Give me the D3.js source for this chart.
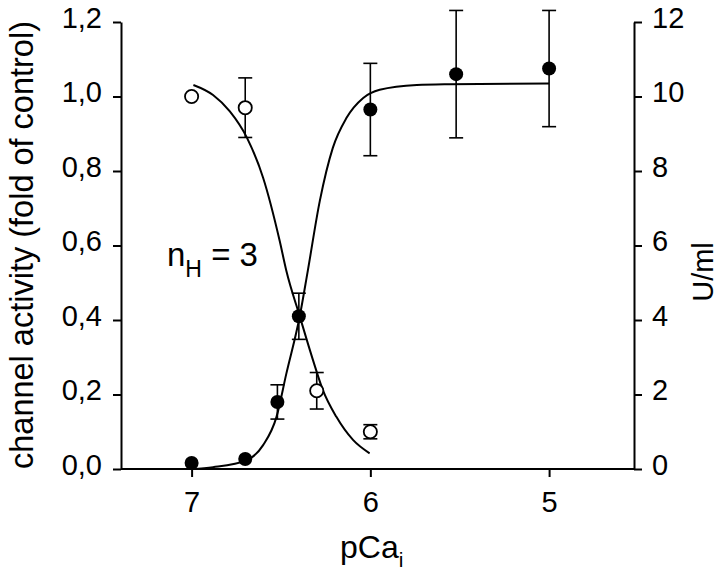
<!DOCTYPE html>
<html>
<head>
<meta charset="utf-8">
<script src="https://cdn.jsdelivr.net/npm/d3@7"></script>
<style>
  html, body { margin: 0; padding: 0; background: #fff; }
  svg { display: block; font-family: "Liberation Sans", Arial, sans-serif; }
</style>
</head>
<body>
<svg id="chart" width="720" height="572"></svg>
<script>
// ---- data ----
const leftTicks = [0, 0.2, 0.4, 0.6, 0.8, 1.0, 1.2];
const rightTicks = [0, 2, 4, 6, 8, 10, 12];
const xTicks = [7, 6, 5];

// channel activity (filled circles, left axis)
const actPCa = [7.0, 6.7, 6.52, 6.4, 6.0, 5.52, 5.0];
const actVal = [0.016, 0.027, 0.18, 0.41, 0.965, 1.06, 1.075];
const actErr = [0, 0, 0.046, 0.062, 0.124, 0.171, 0.156];

// U/ml (open circles, right axis)
const uPCa = [7.0, 6.7, 6.3, 6.0];
const uVal = [10.0, 9.7, 2.1, 1.0];
const uErr = [0, 0.8, 0.49, 0.19];

// fitted curves
const riseCurvePCa = [7.0, 6.88, 6.69, 6.6, 6.525, 6.47, 6.395, 6.35, 6.283, 6.21, 6.134, 6.04, 5.948, 5.74, 5.557, 5.0];
const riseCurveVal = [0.0, 0.005, 0.024, 0.064, 0.14, 0.256, 0.41, 0.532, 0.719, 0.862, 0.942, 0.996, 1.018, 1.031, 1.033, 1.035];
const fallCurvePCa = [6.99, 6.88, 6.786, 6.69, 6.6, 6.507, 6.47, 6.395, 6.32, 6.265, 6.19, 6.097, 6.004];
const fallCurveVal = [10.31, 10.04, 9.6, 8.89, 7.82, 6.12, 5.32, 4.1, 2.91, 2.11, 1.4, 0.78, 0.42];

// ---- drawing ----
const svg = d3.select("#chart");
const L = 121, R = 634, T = 22, B = 469;

const x = d3.scaleLinear().domain([7.395, 4.525]).range([L, R]);
const yL = d3.scaleLinear().domain([0, 1.2]).range([B, T]);
const yR = d3.scaleLinear().domain([0, 12]).range([B, T]);

const fmtComma = d => d3.format(".1f")(d).replace(".", ",");

function styleAxis(g) {
  g.selectAll("path.domain").attr("stroke", "#000").attr("stroke-width", 2);
  g.selectAll(".tick line").attr("stroke", "#000").attr("stroke-width", 2);
  g.selectAll("text").attr("fill", "#000").style("font-size", "29px")
    .style("font-family", '"Liberation Sans", Arial, sans-serif');
}

// left axis
const gL = svg.append("g").attr("transform", `translate(${L},0)`)
  .call(d3.axisLeft(yL).tickValues(leftTicks).tickFormat(fmtComma).tickSize(8).tickSizeOuter(0).tickPadding(11));
styleAxis(gL);
gL.selectAll("text").attr("dy", "0.18em");

// right axis
const gR = svg.append("g").attr("transform", `translate(${R},0)`)
  .call(d3.axisRight(yR).tickValues(rightTicks).tickFormat(d3.format("d")).tickSize(8).tickSizeOuter(0).tickPadding(10));
styleAxis(gR);
gR.selectAll("text").attr("dy", "0.18em");

// bottom axis
const gB = svg.append("g").attr("transform", `translate(0,${B})`)
  .call(d3.axisBottom(x).tickValues(xTicks).tickFormat(d3.format("d")).tickSize(8).tickSizeOuter(0).tickPadding(14));
styleAxis(gB);
gB.select("path.domain").attr("d", `M${L},0H${R}`);

// axis titles
svg.append("text")
  .attr("transform", "translate(33,245) rotate(-90)")
  .attr("text-anchor", "middle")
  .style("font-size", "32.5px")
  .text("channel activity (fold of control)");

svg.append("text")
  .attr("transform", "translate(713,272) rotate(-90)")
  .attr("text-anchor", "middle")
  .style("font-size", "29px")
  .text("U/ml");

const xt = svg.append("text")
  .attr("x", 340).attr("y", 558)
  .style("font-size", "32px");
xt.append("tspan").text("pCa");
xt.append("tspan").attr("dy", 9).style("font-size", "21px").text("i");

const nh = svg.append("text")
  .attr("x", 167).attr("y", 266)
  .style("font-size", "33px");
nh.append("tspan").text("n");
nh.append("tspan").attr("dy", 11).style("font-size", "23px").text("H");
nh.append("tspan").attr("dy", -11).text(" = 3");

// curves
const rise = riseCurvePCa.map((p, i) => [p, riseCurveVal[i]]);
const fall = fallCurvePCa.map((p, i) => [p, fallCurveVal[i]]);

svg.append("path").datum(rise)
  .attr("fill", "none").attr("stroke", "#000").attr("stroke-width", 2)
  .attr("d", d3.line().x(d => x(d[0])).y(d => yL(d[1])).curve(d3.curveMonotoneX));

svg.append("path").datum(fall)
  .attr("fill", "none").attr("stroke", "#000").attr("stroke-width", 2)
  .attr("d", d3.line().x(d => x(d[0])).y(d => yR(d[1])).curve(d3.curveMonotoneX));

// error bars
function errorBars(pcas, vals, errs, yScale) {
  const data = pcas.map((p, i) => ({ p, v: vals[i], e: errs[i] })).filter(d => d.e > 0);
  const g = svg.append("g").attr("stroke", "#000").attr("stroke-width", 1.6).attr("fill", "none");
  const cap = 7;
  data.forEach(d => {
    const cx = x(d.p), y1 = yScale(d.v + d.e), y2 = yScale(d.v - d.e);
    g.append("line").attr("x1", cx).attr("x2", cx).attr("y1", y1).attr("y2", y2);
    g.append("line").attr("x1", cx - cap).attr("x2", cx + cap).attr("y1", y1).attr("y2", y1);
    g.append("line").attr("x1", cx - cap).attr("x2", cx + cap).attr("y1", y2).attr("y2", y2);
  });
}
errorBars(uPCa, uVal, uErr, yR);
errorBars(actPCa, actVal, actErr, yL);

// points
svg.append("g").selectAll("circle")
  .data(uPCa.map((p, i) => [p, uVal[i]]))
  .join("circle")
  .attr("cx", d => x(d[0])).attr("cy", d => yR(d[1])).attr("r", 6.6)
  .attr("fill", "#fff").attr("stroke", "#000").attr("stroke-width", 1.8);

svg.append("g").selectAll("circle")
  .data(actPCa.map((p, i) => [p, actVal[i]]))
  .join("circle")
  .attr("cx", d => x(d[0])).attr("cy", d => yL(d[1])).attr("r", 7)
  .attr("fill", "#000");
</script>
</body>
</html>
